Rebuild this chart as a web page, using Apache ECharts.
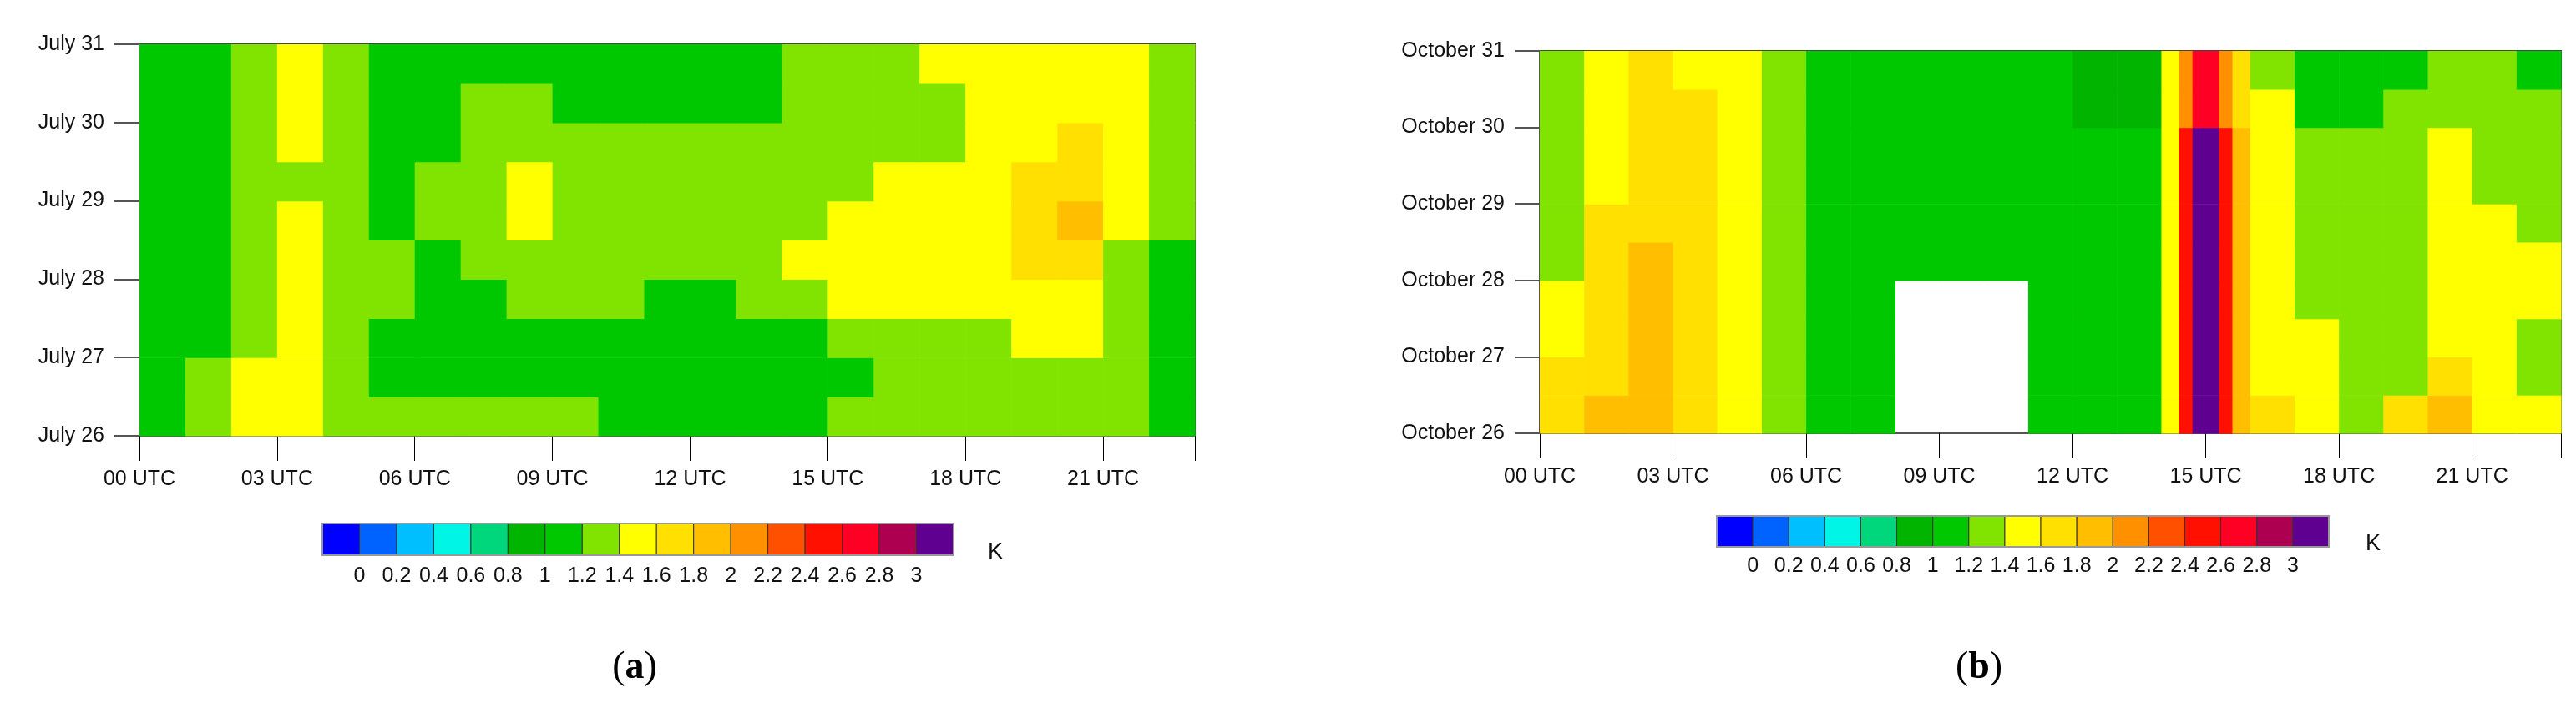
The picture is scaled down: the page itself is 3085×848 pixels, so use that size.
<!DOCTYPE html>
<html><head><meta charset="utf-8">
<script src="https://cdn.jsdelivr.net/npm/echarts@6/dist/echarts.min.js"></script>
<style>html,body{margin:0;padding:0;background:#fff}#c{width:3085px;height:848px}</style>
</head><body><div id="c"></div>
<script>
// class values (K)
const D=0.9,G=1.1,L=1.3,Y=1.5,O=1.7,P=1.9,W=null;
const hourTicks=['00 UTC','03 UTC','06 UTC','09 UTC','12 UTC','15 UTC','18 UTC','21 UTC'];
const julyDays=['July 26','July 27','July 28','July 29','July 30','July 31'];
const octDays=['October 26','October 27','October 28','October 29','October 30','October 31'];
const rowEdges=[26,26.5,27,27.5,28,28.5,29,29.5,30,30.5,31];
const colEdgesA=[0,1,2,3,4,5,6,7,8,9,10,11,12,13,14,15,16,17,18,19,20,21,22,23];
const colEdgesB=[0,1,2,3,4,5,6,7,8,9,10,11,12,13,14,14.4,14.7,15.3,15.6,16,17,18,19,20,21,22,23];
// rows listed from July 26 upward
const valuesA=[
[G,L,Y,Y,L,L,L,L,L,L,G,G,G,G,G,L,L,L,L,L,L,L,G],
[G,L,Y,Y,L,G,G,G,G,G,G,G,G,G,G,G,L,L,L,L,L,L,G],
[G,G,L,Y,L,G,G,G,G,G,G,G,G,G,G,L,L,L,L,Y,Y,L,G],
[G,G,L,Y,L,L,G,G,L,L,L,G,G,L,L,Y,Y,Y,Y,Y,Y,L,G],
[G,G,L,Y,L,L,G,L,L,L,L,L,L,L,Y,Y,Y,Y,Y,O,O,L,G],
[G,G,L,Y,L,G,L,L,Y,L,L,L,L,L,L,Y,Y,Y,Y,O,P,Y,L],
[G,G,L,L,L,G,L,L,Y,L,L,L,L,L,L,L,Y,Y,Y,O,O,Y,L],
[G,G,L,Y,L,G,G,L,L,L,L,L,L,L,L,L,L,L,Y,Y,O,Y,L],
[G,G,L,Y,L,G,G,L,L,G,G,G,G,G,L,L,L,L,Y,Y,Y,Y,L],
[G,G,L,Y,L,G,G,G,G,G,G,G,G,G,L,L,L,Y,Y,Y,Y,Y,L]
];
const valuesB=[
[O,P,P,O,Y,L,G,G,W,W,W,G,G,G,Y,2.5,3.1,2.5,1.9,O,Y,L,O,P,Y,Y],
[O,O,P,O,Y,L,G,G,W,W,W,G,G,G,Y,2.5,3.1,2.5,1.9,Y,Y,L,L,O,Y,L],
[Y,O,P,O,Y,L,G,G,W,W,W,G,G,G,Y,2.5,3.1,2.5,1.9,Y,Y,L,L,Y,Y,L],
[Y,O,P,O,Y,L,G,G,W,W,W,G,G,G,Y,2.5,3.1,2.5,1.9,Y,L,L,L,Y,Y,Y],
[L,O,P,O,Y,L,G,G,G,G,G,G,G,G,Y,2.5,3.1,2.5,1.9,Y,L,L,L,Y,Y,Y],
[L,O,O,O,Y,L,G,G,G,G,G,G,G,G,Y,2.5,3.1,2.5,1.9,Y,L,L,L,Y,Y,L],
[L,Y,O,O,Y,L,G,G,G,G,G,G,G,G,Y,2.5,3.1,2.5,1.9,Y,L,L,L,Y,L,L],
[L,Y,O,O,Y,L,G,G,G,G,G,G,G,G,Y,2.5,3.1,2.5,1.9,Y,L,L,L,Y,L,L],
[L,Y,O,O,Y,L,G,G,G,G,G,G,D,D,Y,2.1,2.7,2.1,1.7,Y,G,G,L,L,L,L],
[L,Y,O,Y,Y,L,G,G,G,G,G,G,D,D,Y,2.1,2.6,2.1,1.7,L,G,G,G,L,L,G]
];
const barLabels=['0','0.2','0.4','0.6','0.8','1','1.2','1.4','1.6','1.8','2','2.2','2.4','2.6','2.8','3'];
const barColors=['#0000ff','#0063ff','#00bfff','#00f5e6','#00d67c','#00b400','#00c800','#80e400','#ffff00','#ffe000','#ffbe00','#ff9100','#ff5000','#ff1000','#ff0025','#ad0050','#600090'];

function colorFor(v){let i=v<0?0:Math.min(16,Math.floor(v/0.2+1e-6)+1);return barColors[i];}
function build(vals,cols){const out=[];vals.forEach((row,r)=>row.forEach((v,c)=>{if(v!==null)out.push([cols[c],cols[c+1],rowEdges[r],rowEdges[r+1],v]);}));return out;}
const FONT="'Liberation Sans Narrow','Liberation Sans',sans-serif";
function renderItem(p,api){const a=api.coord([api.value(0),api.value(3)]);const b=api.coord([api.value(1),api.value(2)]);
 return {type:'rect',shape:{x:a[0],y:a[1],width:b[0]-a[0]+0.6,height:b[1]-a[1]+0.6},style:{fill:colorFor(api.value(4))}};}
function xA(gi){return {type:'value',gridIndex:gi,min:0,max:23,interval:3,axisLine:{show:true,lineStyle:{color:'#555',width:2}},
 axisTick:{show:true,length:30,lineStyle:{color:'#000',width:1}},splitLine:{show:false},
 axisLabel:{margin:40,fontFamily:FONT,fontSize:25,color:'#111',formatter:v=>hourTicks[v/3]}};}
function yA(gi,labels){return {type:'value',gridIndex:gi,min:26,max:31,interval:1,axisLine:{show:true,lineStyle:{color:'#555',width:2}},
 axisTick:{show:true,length:30,lineStyle:{color:'#555',width:2}},splitLine:{show:false},
 axisLabel:{margin:42,fontFamily:FONT,fontSize:25,color:'#111',formatter:v=>labels[v-26]}};}
const graphics=[];
function colorbar(x0,x1,y0,y1,ly,kx,ky){const w=(x1-x0)/17;
 barColors.forEach((c,i)=>graphics.push({type:'rect',shape:{x:x0+i*w,y:y0,width:w,height:y1-y0},style:{fill:c,stroke:'#333',lineWidth:1}}));
 graphics.push({type:'rect',shape:{x:x0,y:y0,width:x1-x0,height:y1-y0},style:{fill:null,stroke:'#999',lineWidth:2}});
 barLabels.forEach((t,i)=>graphics.push({type:'text',x:x0+(i+1)*w,y:ly,style:{text:t,font:'25px '+FONT,fill:'#111',textAlign:'center',textVerticalAlign:'middle'}}));
 graphics.push({type:'text',x:kx,y:ky,style:{text:'K',font:'27px '+FONT,fill:'#111',textAlign:'center',textVerticalAlign:'middle'}});}
colorbar(386,1142,627,665,690,1192,662);
colorbar(2056,2789,618,655,678,2842,652);
graphics.push({type:'text',x:760,y:800,style:{rich:{p:{fontFamily:'Liberation Serif',fontSize:46,fill:'#000'},b:{fontFamily:'Liberation Serif',fontSize:46,fontWeight:'bold',fill:'#000'}},text:'{p|(}{b|a}{p|)}',textAlign:'center',textVerticalAlign:'middle'}});
graphics.push({type:'text',x:2370,y:800,style:{rich:{p:{fontFamily:'Liberation Serif',fontSize:46,fill:'#000'},b:{fontFamily:'Liberation Serif',fontSize:46,fontWeight:'bold',fill:'#000'}},text:'{p|(}{b|b}{p|)}',textAlign:'center',textVerticalAlign:'middle'}});
const chart=echarts.init(document.getElementById('c'),null,{renderer:'canvas'});
chart.setOption({animation:false,backgroundColor:'#fff',
 grid:[{left:167,top:53,width:1264,height:469,show:true,borderColor:'#444',borderWidth:2,backgroundColor:'transparent'},
       {left:1844,top:61,width:1223,height:458,show:true,borderColor:'#444',borderWidth:2,backgroundColor:'transparent'}],
 xAxis:[xA(0),xA(1)],yAxis:[yA(0,julyDays),yA(1,octDays)],
 series:[{type:'custom',xAxisIndex:0,yAxisIndex:0,renderItem,encode:{x:[0,1],y:[2,3]},data:build(valuesA,colEdgesA),z:1},
         {type:'custom',xAxisIndex:1,yAxisIndex:1,renderItem,encode:{x:[0,1],y:[2,3]},data:build(valuesB,colEdgesB),z:1}],
 graphic:graphics});
</script></body></html>
